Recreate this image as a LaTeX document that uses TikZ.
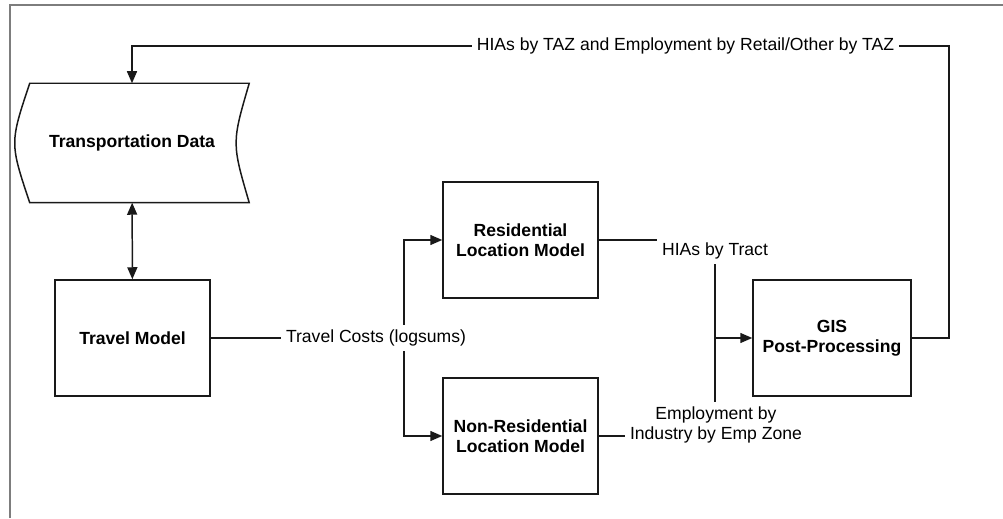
\documentclass[tikz,border=0pt]{standalone}
\usepackage{fontspec}
\setmainfont{Liberation Sans}
\usepackage{tikz}
\usetikzlibrary{arrows.meta, positioning}
\usepackage{xcolor}
\definecolor{framegray}{RGB}{125, 125, 125}
\definecolor{inkblack}{RGB}{25, 25, 25}

\begin{document}
\begin{tikzpicture}[
  line width=0.85pt, draw=inkblack, font=\fontsize{10}{11.5}\selectfont,
  box/.style={draw=inkblack, minimum width=3.1cm, minimum height=2.32cm, align=center, font=\fontsize{10}{11.5}\selectfont\bfseries},
  lbl/.style={align=center, inner sep=2.5pt},
  arr/.style={-{Triangle[length=0.24cm, width=0.2cm]}},
  biarr/.style={{Triangle[length=0.24cm, width=0.2cm]}-{Triangle[length=0.24cm, width=0.2cm]}}
]
  \useasboundingbox (0,0) rectangle (20.06,10.36);
  \draw[framegray, line width=1pt] (0.2,0) -- (0.2,10.26) -- (20.06,10.26);

  % stored data shape
  \node[box, draw=none, minimum width=4.66cm, minimum height=2.36cm] (data) at (2.64,7.5) {Transportation Data};
  \draw ([xshift=0.3cm]data.north west) -- (data.north east)
    .. controls ([xshift=-0.35cm]data.east) .. (data.south east)
    -- ([xshift=0.3cm]data.south west)
    .. controls ([xshift=-0.1cm]data.west) .. ([xshift=0.3cm]data.north west) -- cycle;

  \node[box] (travel) at (2.65,3.6) {Travel Model};
  \node[box] (res) at (10.41,5.56) {Residential\\Location Model};
  \node[box] (nonres) at (10.41,1.64) {Non-Residential\\Location Model};
  \node[box, minimum width=3.16cm] (gis) at (16.64,3.6) {GIS\\Post-Processing};

  \node[lbl] (costs) at (7.52,3.6) {Travel Costs (logsums)};
  \node[lbl] (tract) at (14.3,5.34) {HIAs by Tract};
  \node[lbl] (emp) at (14.32,1.86) {Employment by\\Industry by Emp Zone};
  \node[lbl] (taz) at (13.71,9.44) {HIAs by TAZ and Employment by Retail/Other by TAZ};

  \coordinate (fork) at (8.08,3.6);
  \coordinate (bus) at (tract.south |- gis.west);
  \coordinate (loop) at (18.98,9.44);

  \draw[biarr] (data) -- (travel);
  \draw (travel) -- (costs);
  \draw[arr] (fork |- costs.north) |- (res);
  \draw[arr] (fork |- costs.south) |- (nonres);
  \draw (res) -- (res -| tract.west);
  \draw (nonres) -- (nonres -| emp.west);
  \draw (tract.south) -- (tract.south |- emp.north);
  \draw[arr] (bus) -- (gis);
  \draw (gis) -| (loop) -- (taz);
  \draw[arr] (taz) -| (data);
\end{tikzpicture}
\end{document}
